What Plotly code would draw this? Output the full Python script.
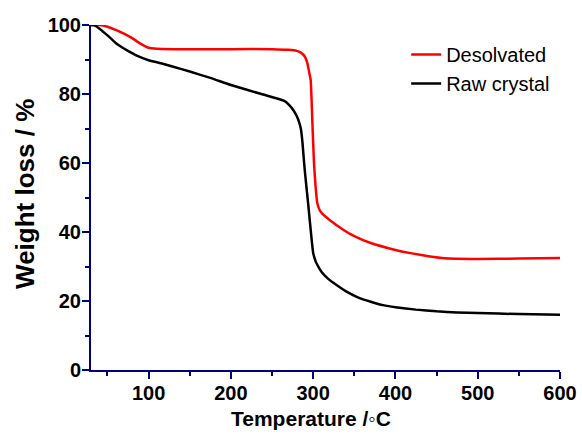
import plotly.graph_objects as go

# Desolvated sample
temp_desolvated = [30, 40, 50, 60, 70, 80, 90, 100, 110, 130, 200, 250, 270, 280, 285, 290, 293,
                   295, 297, 299, 301, 303, 305, 308, 311, 320, 337, 350, 370, 400, 420, 440, 460,
                   500, 550, 600]
wt_desolvated = [100, 100, 99.5, 98.6, 97.5, 96.2, 94.6, 93.4, 93.1, 93.0, 93.0, 93.0, 92.8, 92.5,
                 92.0, 90.8, 88.9, 86.5, 84.0, 72.0, 60.0, 53.0, 48.4, 46.3, 45.3, 43.5, 40.6, 38.8,
                 36.8, 34.8, 33.8, 33.0, 32.4, 32.2, 32.3, 32.5]

# Raw crystal sample
temp_raw = [30, 35, 40, 50, 60, 70, 75, 85, 100, 115, 130, 150, 176, 200, 237, 255, 265, 271, 276,
            280, 283, 285, 287, 289, 291, 294, 297, 300, 303, 305, 310, 318, 325, 340, 355, 370, 385,
            400, 425, 450, 475, 500, 550, 600]
wt_raw = [100, 99.8, 99.0, 97.0, 94.8, 93.2, 92.5, 91.2, 89.8, 88.9, 87.9, 86.5, 84.6, 82.6, 80.0,
          78.8, 78.0, 76.8, 75.3, 73.6, 71.8, 70.0, 66.0, 60.0, 55.0, 48.0, 40.6, 34.0, 31.5, 30.5,
          28.5, 26.5, 25.2, 22.8, 21.0, 19.8, 18.8, 18.2, 17.5, 17.0, 16.7, 16.5, 16.2, 16.0]

series_names = ["Desolvated", "Raw crystal"]
x_title = "Temperature /◦C"
y_title = "Weight loss / %"

FONT = "Arial, 'Liberation Sans', sans-serif"
AX = "#000080"

fig = go.Figure()
fig.add_trace(go.Scatter(x=temp_desolvated, y=wt_desolvated, mode="lines", name=series_names[0],
                         line=dict(color="#ff0000", width=2.5, shape="spline", smoothing=0.4)))
fig.add_trace(go.Scatter(x=temp_raw, y=wt_raw, mode="lines", name=series_names[1],
                         line=dict(color="#000000", width=2.5, shape="spline", smoothing=0.4)))

axis_common = dict(showline=True, linecolor=AX, linewidth=2, ticks="outside", tickcolor=AX,
                   tickwidth=2, ticklen=7, showgrid=False, zeroline=False, automargin=False,
                   ticklabelstandoff=-3,
                   tickfont=dict(family=FONT, size=20, color="black", weight="bold"))

fig.update_xaxes(range=[30, 600], tick0=0, dtick=100,
                 minor=dict(ticks="outside", ticklen=4, tickcolor=AX, tickwidth=2, dtick=50, tick0=0,
                            showgrid=False),
                 **axis_common)
fig.update_yaxes(range=[0, 100], tick0=0, dtick=20,
                 minor=dict(ticks="outside", ticklen=4, tickcolor=AX, tickwidth=2, dtick=10, tick0=0,
                            showgrid=False),
                 **axis_common)

fig.add_annotation(text=x_title, xref="paper", yref="paper", x=0.469, y=-0.142,
                   xanchor="center", yanchor="middle", showarrow=False,
                   font=dict(family=FONT, size=21, color="black", weight="bold"))
fig.add_annotation(text=y_title, xref="paper", yref="paper", x=-0.141, y=0.51,
                   xanchor="center", yanchor="middle", showarrow=False, textangle=-90,
                   font=dict(family=FONT, size=26, color="black", weight="bold"))

fig.update_layout(
    width=582, height=434,
    margin=dict(l=91, r=22, t=25, b=64),
    plot_bgcolor="white", paper_bgcolor="white",
    showlegend=True,
    legend=dict(x=0.672, y=0.971, xanchor="left", yanchor="top", bgcolor="rgba(0,0,0,0)",
                font=dict(family=FONT, size=20, color="black"), tracegroupgap=0, itemwidth=30),
)

fig.write_html("out.html")
